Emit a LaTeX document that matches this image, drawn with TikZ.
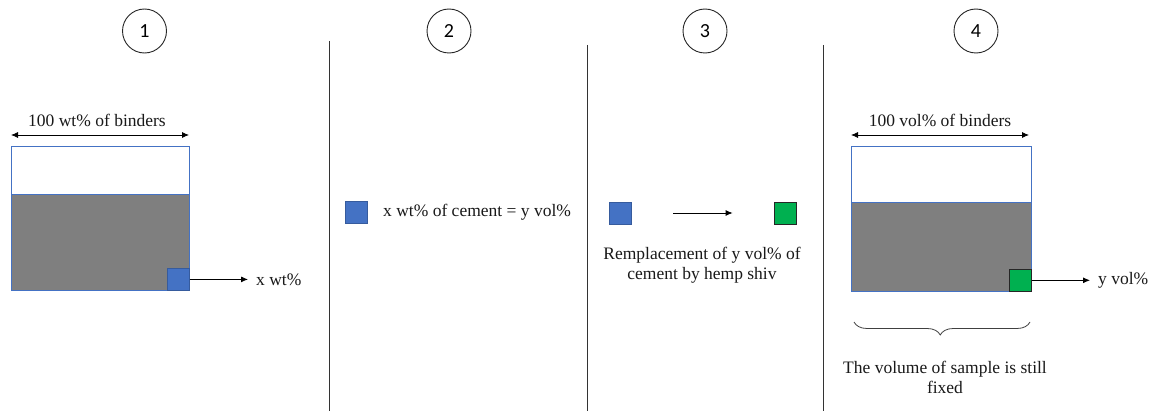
\documentclass[tikz,border=0pt]{standalone}
\usepackage{fontspec}
\setmainfont{Liberation Serif}
\newfontfamily\numfont{Carlito}
\usetikzlibrary{arrows.meta,decorations.pathreplacing}
\definecolor{boxblue}{HTML}{4472C4}
\definecolor{boxgray}{HTML}{7F7F7F}
\definecolor{shivgreen}{HTML}{00B050}
\begin{document}
\begin{tikzpicture}[x=1pt,y=-1pt,
  lbl/.style={font=\fontsize{17.5}{20}\selectfont, inner sep=0pt, text=black!90},
  num/.style={circle, draw=black!85, line width=0.9pt, minimum size=44pt, inner sep=0pt, font=\numfont\fontsize{20}{22}\selectfont},
  whitepart/.style={draw=boxblue, line width=0.7pt, fill=white, inner sep=0pt, anchor=north west},
  graypart/.style={draw=boxblue, line width=0.7pt, fill=boxgray, inner sep=0pt, anchor=north west},
  bluesq/.style={draw=boxblue!80!black, line width=0.6pt, fill=boxblue, minimum width=22pt, minimum height=22pt, inner sep=0pt},
  greensq/.style={draw=black!85, line width=0.8pt, fill=shivgreen, minimum width=22pt, minimum height=22pt, inner sep=0pt},
  arr/.style={-{Latex[length=7pt,width=6pt]}, line width=0.8pt, black},
  dblarr/.style={{Latex[length=7pt,width=6pt]}-{Latex[length=7pt,width=6pt]}, line width=0.8pt, black},
  sep/.style={draw=black!80, line width=1pt}
]
\useasboundingbox (0,0) rectangle (1149,412);

% separators
\coordinate (s1t) at (329,41); \coordinate (s1b) at (329,411);
\coordinate (s2t) at (587,45); \coordinate (s2b) at (587,411);
\coordinate (s3t) at (823,45); \coordinate (s3b) at (823,411);
\draw[sep] (s1t) -- (s1b);
\draw[sep] (s2t) -- (s2b);
\draw[sep] (s3t) -- (s3b);

% step numbers
\node[num] (c1) at (144.5,31) {1};
\node[num] (c2) at (449,31) {2};
\node[num] (c3) at (705,31) {3};
\node[num] (c4) at (976,31) {4};

% ---- panel 1
\node[whitepart, minimum width=178pt, minimum height=48pt] (w1) at (11,146) {};
\node[graypart, minimum width=178pt, minimum height=96pt] (g1) at (11,194) {};
\node[bluesq, anchor=south east] (b1) at (g1.south east) {};
\coordinate (d1l) at (11,135); \coordinate (d1r) at (189,135);
\draw[dblarr] (d1l) -- (d1r);
\node[lbl] (t1) at (97,120) {100 wt\% of binders};
\node[lbl, anchor=west] (xw) at (256,280) {x wt\%};
\draw[arr, shorten >=8pt] (b1.east) -- (xw.west |- b1.east);

% ---- panel 2
\node[bluesq] (b2) at (356.5,212) {};
\node[lbl, anchor=west] (t2) at (383,212) {x wt\% of cement = y vol\%};

% ---- panel 3
\node[bluesq] (b3) at (620,213) {};
\node[greensq] (g3) at (785,213) {};
\draw[arr, shorten <=42pt, shorten >=41pt] (b3.east) -- (g3.west);
\node[lbl, align=center, font=\fontsize{17.5}{20}\selectfont] (t3) at (702,265) {Remplacement of y vol\% of\\cement by hemp shiv};

% ---- panel 4
\node[whitepart, minimum width=180pt, minimum height=56pt] (w4) at (851,146) {};
\node[graypart, minimum width=180pt, minimum height=89pt] (g4) at (851,202) {};
\node[greensq, anchor=south east] (q4) at (g4.south east) {};
\coordinate (d4l) at (851,135); \coordinate (d4r) at (1029,135);
\draw[dblarr] (d4l) -- (d4r);
\node[lbl] (t4) at (940,120) {100 vol\% of binders};
\node[lbl, anchor=west] (yv) at (1098,280) {y vol\%};
\draw[arr, shorten >=8pt] (q4.east) -- (yv.west |- q4.east);
\coordinate (brl) at (854,322); \coordinate (brr) at (1030,322);
\draw[black!75, line width=0.8pt, decorate, decoration={brace, amplitude=13pt, aspect=0.51}] (brr) -- (brl);
\node[lbl, align=center, font=\fontsize{17.5}{20}\selectfont] (t5) at (945,377) {The volume of sample is still\\fixed};
\end{tikzpicture}
\end{document}
